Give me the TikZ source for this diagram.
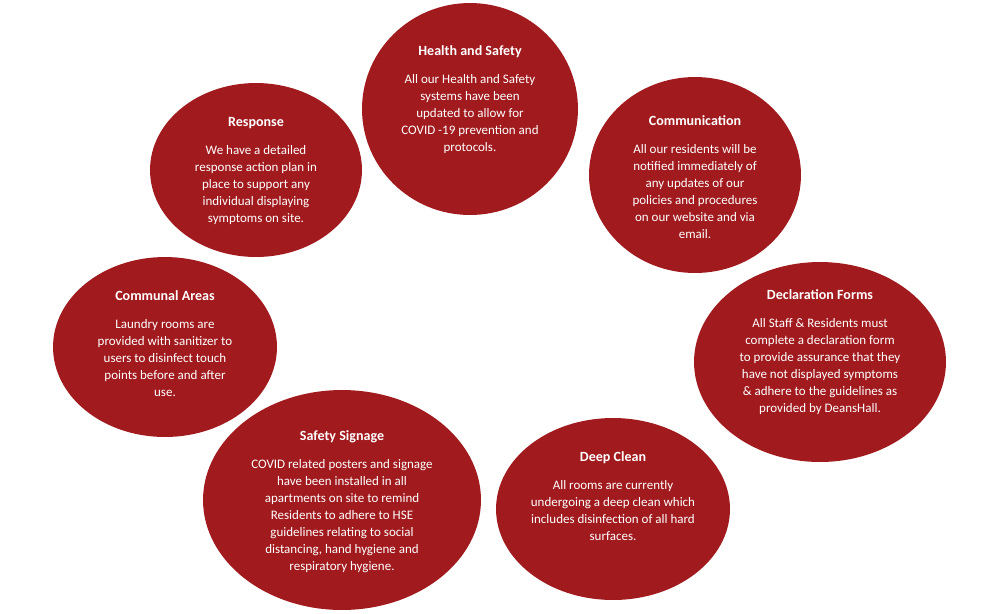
\documentclass[tikz,border=0pt]{standalone}
\usepackage{fontspec}
\setmainfont{Carlito}
\usetikzlibrary{shapes.geometric}
\definecolor{covidred}{HTML}{A11A1E}
\tikzset{
  blob/.style={ellipse, fill=covidred, draw=none, inner sep=0pt},
  blobtext/.style={text=white, align=center, font=\fontsize{7.4}{9.7}\selectfont},
}
\newcommand{\blobhead}[1]{{\fontsize{8}{9.7}\selectfont\bfseries #1}\\[0.22cm]}
\begin{document}
\begin{tikzpicture}[x=0.02cm,y=-0.02cm]
  \useasboundingbox (0,0) rectangle (1000,613);
  % the seven measures
  \node[blob, minimum width=4.32cm, minimum height=4.24cm] (hs) at (470,109) {};
  \node[blob, minimum width=4.24cm, minimum height=3.48cm] (resp) at (256,170) {};
  \node[blob, minimum width=4.24cm, minimum height=3.92cm] (comm) at (695,175) {};
  \node[blob, minimum width=4.48cm, minimum height=3.60cm] (areas) at (165,347) {};
  \node[blob, minimum width=5.04cm, minimum height=4.00cm] (decl) at (820,362) {};
  \node[blob, minimum width=5.56cm, minimum height=4.40cm] (sign) at (342,500) {};
  \node[blob, minimum width=4.68cm, minimum height=3.64cm] (clean) at (613,509) {};

  \node[blobtext] (hstext) at (470,100) {\blobhead{Health and Safety}
    All our Health and Safety\\ systems have been\\ updated to allow for\\
    COVID -19 prevention and\\ protocols.};
  \node[blobtext] (resptext) at (256,171) {\blobhead{Response}
    We have a detailed\\ response action plan in\\ place to support any\\
    individual displaying\\ symptoms on site.};
  \node[blobtext] (commtext) at (695,177) {\blobhead{Communication}
    All our residents will be\\ notified immediately of\\ any updates of our\\
    policies and procedures\\ on our website and via\\ email.};
  \node[blobtext] (areastext) at (165,344) {\blobhead{Communal Areas}
    Laundry rooms are\\ provided with sanitizer to\\ users to disinfect touch\\
    points before and after\\ use.};
  \node[blobtext] (decltext) at (820,352) {\blobhead{Declaration Forms}
    All Staff \& Residents must\\ complete a declaration form\\ to provide assurance that they\\
    have not displayed symptoms\\ \& adhere to the guidelines as\\ provided by DeansHall.};
  \node[blobtext] (signtext) at (342,502) {\blobhead{Safety Signage}
    COVID related posters and signage\\ have been installed in all\\
    apartments on site to remind\\ Residents to adhere to HSE\\
    guidelines relating to social\\ distancing, hand hygiene and\\ respiratory hygiene.};
  \node[blobtext] (cleantext) at (613,496) {\blobhead{Deep Clean}
    All rooms are currently\\ undergoing a deep clean which\\ includes disinfection of all hard\\
    surfaces.};
\end{tikzpicture}
\end{document}
